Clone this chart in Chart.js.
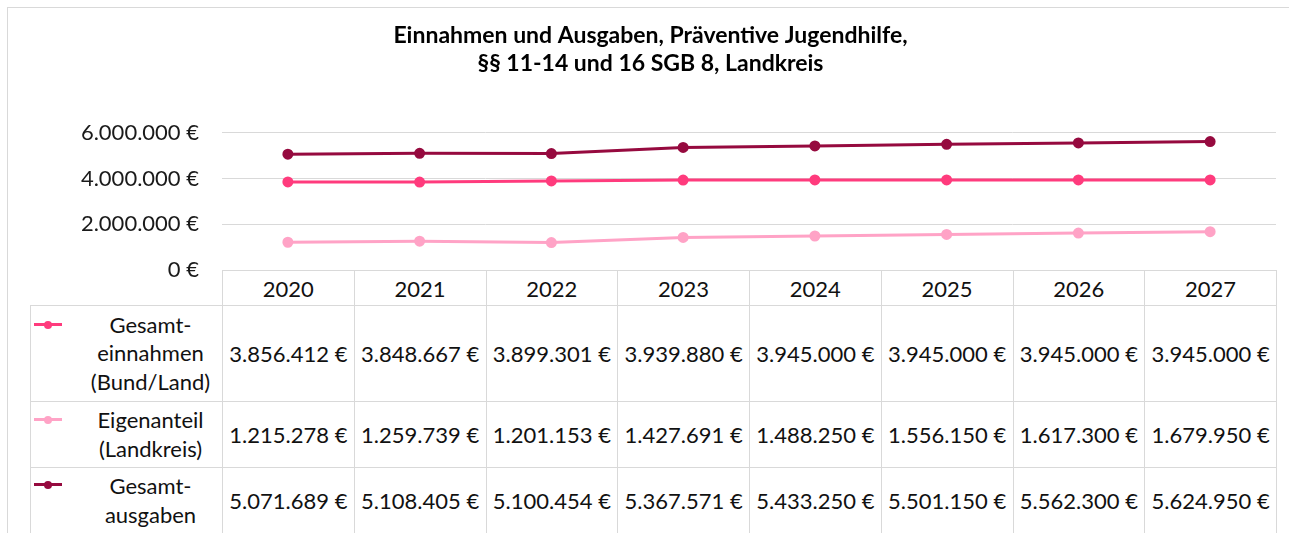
<!DOCTYPE html>
<html lang="de">
<head>
<meta charset="utf-8">
<title>Einnahmen und Ausgaben, Präventive Jugendhilfe</title>
<script src="https://cdn.jsdelivr.net/npm/chart.js@4.4.1/dist/chart.umd.min.js"></script>
<style>
  html, body { margin: 0; padding: 0; background: #fff; }
  body { width: 1289px; height: 533px; position: relative; overflow: hidden; font-family: Lato, "Noto Sans", sans-serif; }
  .frame { position: absolute; left: 7px; top: 7px; width: 1300px; height: 540px; border-left: 1px solid #d9d9d9; border-top: 1px solid #d9d9d9; }
  #chartWrap { position: absolute; left: 0; top: 0; width: 1289px; height: 533px; }
  table.data { position: absolute; left: 30px; top: 270px; width: 1247px; border-collapse: collapse; table-layout: fixed; font-size: 22px; color: #111; }
  table.data td, table.data th { border: 1px solid #d9d9d9; padding: 0; text-align: center; font-weight: normal; white-space: nowrap; }
  table.data th.blank { border-top: none; border-left: none; }
  table.data thead th { height: 34px; }
  table.data td.name { position: relative; line-height: 28.5px; padding-left: 48px; vertical-align: middle; }
  .key { position: absolute; left: 3px; width: 28px; height: 3px; }
  .key i { position: absolute; left: 10px; top: -2.5px; width: 8px; height: 8px; border-radius: 50%; }
</style>
</head>
<body>
<div class="frame"></div>
<table class="data" id="dataTable"></table>
<div id="chartWrap"><canvas id="chart" width="1289" height="533"></canvas></div>
<script>
  // Data
  const years = ["2020", "2021", "2022", "2023", "2024", "2025", "2026", "2027"];
  const einnahmen = [3856412, 3848667, 3899301, 3939880, 3945000, 3945000, 3945000, 3945000];
  const eigenanteil = [1215278, 1259739, 1201153, 1427691, 1488250, 1556150, 1617300, 1679950];
  const ausgaben = [5071689, 5108405, 5100454, 5367571, 5433250, 5501150, 5562300, 5624950];

  const seriesNames = [["Gesamt-", "einnahmen", "(Bund/Land)"], ["Eigenanteil", "(Landkreis)"], ["Gesamt-", "ausgaben"]];
  const seriesColors = ["#ff3b7d", "#ffa3c6", "#960a3f"];
  const seriesValues = [einnahmen, eigenanteil, ausgaben];

  // 3856412 -> "3.856.412 €"
  function euro(v) {
    return String(Math.round(v)).replace(/\B(?=(\d{3})+(?!\d))/g, ".") + " €";
  }

  // data table below the plot
  const table = document.getElementById("dataTable");
  let html = '<colgroup><col style="width:192px">' + years.map(() => '<col>').join('') + '</colgroup>';
  html += '<thead><tr><th class="blank"></th>' + years.map(y => '<th>' + y + '</th>').join('') + '</tr></thead><tbody>';
  const rowHeights = [96, 66, 66];
  const keyTops = [17, 16, 15];
  seriesValues.forEach((vals, i) => {
    html += '<tr style="height:' + rowHeights[i] + 'px"><td class="name">' +
      '<span class="key" style="top:' + keyTops[i] + 'px;background:' + seriesColors[i] + '"><i style="background:' + seriesColors[i] + '"></i></span>' +
      seriesNames[i].join('<br>') + '</td>' +
      vals.map(v => '<td>' + euro(v) + '</td>').join('') + '</tr>';
  });
  html += '</tbody>';
  table.innerHTML = html;

  const ctx = document.getElementById("chart").getContext("2d");
  new Chart(ctx, {
    type: "line",
    data: {
      labels: years,
      datasets: seriesValues.map((vals, i) => ({
        label: seriesNames[i].join(" ").replace("- ", ""),
        data: vals,
        borderColor: seriesColors[i],
        backgroundColor: seriesColors[i],
        borderWidth: 3,
        pointRadius: 4,
        pointHoverRadius: 4,
        tension: 0,
      })),
    },
    options: {
      responsive: false,
      animation: false,
      layout: { padding: { left: 25, right: 13, top: 0, bottom: 263 } },
      plugins: {
        legend: { display: false },
        tooltip: { enabled: false },
        title: {
          display: true,
          text: ["Einnahmen und Ausgaben, Präventive Jugendhilfe,", "§§ 11-14 und 16 SGB 8, Landkreis"],
          color: "#000",
          font: { family: "Lato", size: 23, weight: "bold", lineHeight: 1.217 },
          padding: { top: 22, bottom: 55 },
        },
      },
      scales: {
        x: {
          type: "category",
          offset: true,
          display: false,
        },
        y: {
          min: 0,
          max: 6000000,
          afterFit: (scale) => { scale.width = 197; },
          border: { display: false },
          grid: { color: "#d9d9d9", lineWidth: 1, drawTicks: false },
          ticks: {
            stepSize: 2000000,
            padding: 23,
            color: "#1a1a1a",
            font: { family: "Lato", size: 22 },
            callback: (v) => euro(v),
          },
        },
      },
    },
  });
</script>
</body>
</html>
